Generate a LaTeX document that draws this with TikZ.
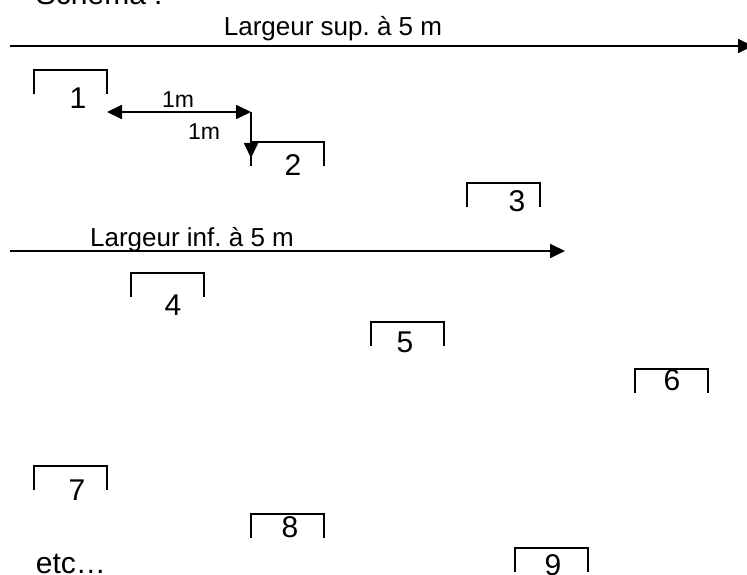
\documentclass[tikz,border=0pt]{standalone}
\usepackage{fontspec}
\setmainfont{Liberation Sans}
\usetikzlibrary{arrows.meta}

\tikzset{
  bracket/.style={line width=1.8pt},
  widthlabel/.style={anchor=base, inner sep=0pt, font=\fontsize{26}{30}\selectfont},
  gaplabel/.style={anchor=base, inner sep=0pt, font=\fontsize{23}{27}\selectfont},
  digit/.style={inner sep=0pt, font=\fontsize{30}{36}\selectfont}
}

\begin{document}
\begin{tikzpicture}[>={Triangle[length=15pt,width=14pt]}, x=1pt, y=-1pt, line width=1.8pt]
\useasboundingbox (0,0) rectangle (747,575);
% Parameters
\def\boxw{73}
\def\boxh{24}

% === Title ===
\node[anchor=base west, inner sep=0pt, font=\fontsize{30}{36}\selectfont]
  (Title) at (35,5) {Schéma :};

% === Width arrows ===
\coordinate (Sup-start) at (10,46);
\coordinate (Sup-end) at (753,46);
\draw[->] (Sup-start) -- (Sup-end);
\node[widthlabel] (Sup-label) at (333,36) {Largeur sup.\ à 5 m};

\coordinate (Inf-start) at (10,251);
\coordinate (Inf-end) at (565,251);
\draw[->] (Inf-start) -- (Inf-end);
\node[widthlabel] (Inf-label) at (192,246) {Largeur inf.\ à 5 m};

% === Steps ===
\foreach \n/\x/\y/\dx/\dy in {1/34/70/78/98, 2/251/142/293/165, 3/467/183/517/201,
  4/131/273/173/305, 5/371/322/405/342, 6/635/369/672/380,
  7/34/466/77/490, 8/251/514/290/527, 9/515/548/553/565}{
  \coordinate (Step-\n) at (\x,\y);
  \draw[bracket] (Step-\n) ++(0,\boxh) -- ++(0,-\boxh) -- ++(\boxw,0) -- ++(0,\boxh);
  \node[digit] (Num-\n) at (\dx,\dy) {\n};
}

% === Gaps ===
\coordinate (Gap-start) at (107,112);
\coordinate (Gap-corner) at (251,112);
\coordinate (Gap-end) at (251,158);
\draw[<->] (Gap-start) -- (Gap-corner);
\draw[->] (Gap-corner) -- (Gap-end);
\node[gaplabel] (Gap-across) at (178,108) {1m};
\node[gaplabel] (Gap-down) at (204,140) {1m};

% === End note ===
\node[anchor=base west, inner sep=0pt, font=\fontsize{30}{36}\selectfont]
  (Etc) at (35,573) {etc…};
\end{tikzpicture}
\end{document}
